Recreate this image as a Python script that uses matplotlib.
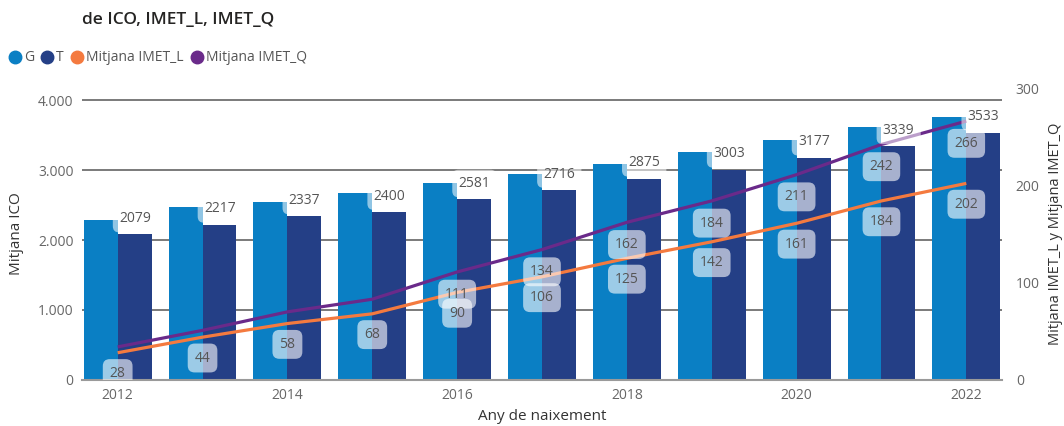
import matplotlib.pyplot as plt
from matplotlib.lines import Line2D
import numpy as np

# dades
anys = [2012, 2013, 2014, 2015, 2016, 2017, 2018, 2019, 2020, 2021, 2022]
ico_g = [2286, 2467, 2548, 2667, 2810, 2943, 3086, 3262, 3429, 3619, 3762]
ico_t = [2079, 2217, 2337, 2400, 2581, 2716, 2875, 3003, 3177, 3339, 3533]
imet_l = [28, 44, 58, 68, 90, 106, 125, 142, 161, 184, 202]
imet_q = [34, 51, 70, 83, 111, 134, 162, 184, 211, 242, 266]
q_label_desde = 2016  # Power BI amaga les etiquetes que xoquen

c_g = '#0a7fc4'
c_t = '#243f86'
c_l = '#f47a3f'
c_q = '#6a2a8a'
c_txt = '#555555'

plt.rcParams['font.family'] = ['Open Sans', 'DejaVu Sans']

fig = plt.figure(figsize=(10.64, 4.26), dpi=100)
ax = fig.add_axes([0.0771, 0.108, 0.8646, 0.6854])
ax2 = ax.twinx()

x = np.arange(len(anys))
w = 0.4
ax.bar(x - w / 2, ico_g, width=w, color=c_g, zorder=2)
ax.bar(x + w / 2, ico_t, width=w, color=c_t, zorder=2)

ax.set_xlim(-0.42, 10.42)
ax.set_ylim(0, 4000 * 292 / 280)
ax.set_yticks([0, 1000, 2000, 3000, 4000])
ax.set_yticklabels(['0', '1.000', '2.000', '3.000', '4.000'])
ax.set_xticks(x[::2])
ax.set_xticklabels([str(a) for a in anys[::2]])
ax.grid(axis='y', color='#707070', lw=1.3, zorder=0)
ax.set_axisbelow(True)
for s in ['left', 'right', 'top']:
    ax.spines[s].set_visible(False)
ax.spines['bottom'].set_color('#9a9a9a')
ax.spines['bottom'].set_linewidth(1.5)
ax.tick_params(length=0, labelsize=10, labelcolor='#666666', pad=6)
ax.set_ylabel('Mitjana ICO', fontsize=11, color='#333333', labelpad=10)
ax.set_xlabel('Any de naixement', fontsize=11, color='#333333', labelpad=4)

ax2.plot(x, imet_l, color=c_l, lw=2.3, zorder=3, solid_capstyle='butt')
ax2.plot(x, imet_q, color=c_q, lw=2.3, zorder=3, solid_capstyle='butt')
ax2.set_ylim(0, 300)
ax2.set_yticks([0, 100, 200, 300])
for s in ['left', 'right', 'top', 'bottom']:
    ax2.spines[s].set_visible(False)
ax2.tick_params(length=0, labelsize=10, labelcolor='#666666', pad=10)
ax2.set_ylabel('Mitjana IMET_L y Mitjana IMET_Q', fontsize=10.5, color='#333333')
ax2.yaxis.set_label_coords(1.05, 0.5)

# etiquetes de T
for i, v in enumerate(ico_t):
    ax2.annotate(str(v), xy=(x[i], v), xycoords=ax.transData,
                 xytext=(1, 6), textcoords='offset points',
                 ha='left', va='bottom', fontsize=10, color=c_txt, zorder=5,
                 bbox=dict(boxstyle='round,pad=0.45', fc='white', ec='none', alpha=0.55))

# etiquetes de les linies
box = dict(boxstyle='round,pad=0.5,rounding_size=0.5', fc='white', ec='none', alpha=0.6)
for i, v in enumerate(imet_q):
    if anys[i] >= q_label_desde:
        ax2.annotate(str(v), xy=(x[i], v), xytext=(0, -16), textcoords='offset points',
                     ha='center', va='center', fontsize=10, color=c_txt, zorder=6,
                     bbox=box, clip_on=True)
for i, v in enumerate(imet_l):
    ax2.annotate(str(v), xy=(x[i], v), xytext=(0, -15), textcoords='offset points',
                 ha='center', va='center', fontsize=10, color=c_txt, zorder=7,
                 bbox=box, clip_on=True)

fig.text(0.077, 0.952, 'de ICO, IMET_L, IMET_Q', fontsize=12.5, fontweight='semibold',
         color='#252423', ha='left', va='center')

handles = [Line2D([], [], ls='none', marker='o', ms=9, color=c) for c in (c_g, c_t, c_l, c_q)]
fig.legend(handles, ['G', 'T', 'Mitjana IMET_L', 'Mitjana IMET_Q'], loc='center left',
           bbox_to_anchor=(0.004, 0.864), ncol=4, frameon=False, fontsize=10,
           handlelength=0.7, handletextpad=0.3, columnspacing=0.6, borderaxespad=0,
           labelcolor='#555555')

plt.savefig('out.png', dpi=100)
plt.close()
